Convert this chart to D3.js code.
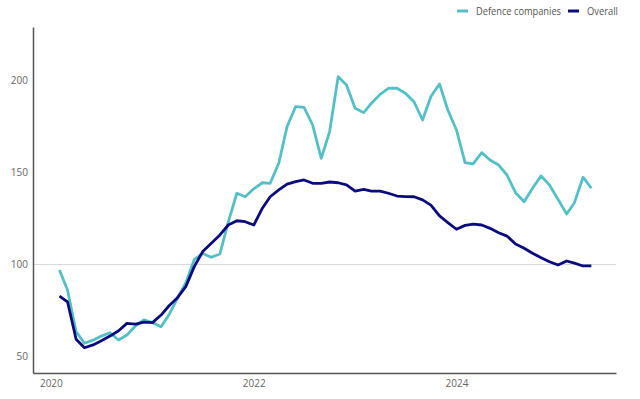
<!DOCTYPE html>
<html><head><meta charset="utf-8">
<script src="https://cdn.jsdelivr.net/npm/d3@7"></script>
<style>
html,body{margin:0;padding:0;background:#fff;}
svg{display:block;font-family:"Open Sans",sans-serif;}
</style></head>
<body><svg id="c" width="640" height="399"></svg>
<script>
const startMonth = "2020-02";
const defence = [97,86.2,63.6,57.3,59,61.2,63,59.1,61.8,66.7,70,68.5,66.3,72.6,81.7,90,102.8,106,103.9,105.7,123,138.6,136.7,141,144.3,144,154.9,174.8,185.6,185.2,175.6,157.5,171.9,201.8,197.3,184.7,182.3,187.4,192.2,195.5,195.5,192.8,188.2,178.3,191,197.8,183.7,172.9,155.2,154.5,160.6,156.6,153.9,148.5,138.9,134,141.3,148,143.1,135.3,127.4,133.5,147.3,141.3];
const overall = [82.9,79.8,59.5,54.9,56.4,58.7,61.2,64.1,68.1,67.7,68.8,68.5,72.6,77.5,82,88,99,107,111.5,116,121.4,123.7,123.2,121.4,130.5,136.7,140.4,143.6,144.9,145.8,144,144,144.7,144.3,143.1,139.8,140.7,139.8,139.8,138.6,137.1,136.8,136.7,135,132.2,126.3,122.7,119.1,121.2,121.9,121.4,119.6,117.2,115.4,111.1,108.8,106.1,103.7,101.5,99.7,101.9,100.7,99.2,99.2];
const seriesNames = ["Defence companies","Overall"];
const yTicks = [50,100,150,200];
const xTickYears = [2020,2022,2024];

(function(){
const colors = ["#55bfc6","#0b0b7e"];
const svg = d3.select("#c");
const parse = d3.timeParse("%Y-%m");
const t0 = parse(startMonth);
const dates = defence.map((d,i)=>d3.timeMonth.offset(t0,i));

const mL = 33, mR = 616, mT = 27, mB = 373;
const base = d3.scaleTime().domain([new Date(2020,0,1), new Date(2024,0,1)]).range([50.85,456.45]);
const x = d3.scaleTime().domain([base.invert(mL), base.invert(mR)]).range([mL,mR]);
const y = d3.scaleLinear().domain([41.2,228.7]).range([mB,mT]);

svg.append("line").attr("x1",mL).attr("x2",mR).attr("y1",y(100)).attr("y2",y(100))
  .attr("stroke","#d9d9d9").attr("stroke-width",1.2);

const ya = svg.append("g").attr("transform",`translate(${mL},0)`)
  .call(d3.axisLeft(y).tickValues(yTicks).tickSize(0).tickPadding(5));
ya.select(".domain").attr("stroke","#555").attr("stroke-width",1.5);
ya.selectAll("text").attr("fill","#666").attr("font-size",10).attr("font-family","Open Sans");

const xa = svg.append("g").attr("transform",`translate(0,${mB})`)
  .call(d3.axisBottom(x).tickValues(xTickYears.map(yy=>new Date(yy,0,1))).tickFormat(d3.timeFormat("%Y")).tickSize(0).tickPadding(7));
xa.select(".domain").attr("stroke","#555").attr("stroke-width",1.5);
xa.selectAll("text").attr("fill","#666").attr("font-size",10).attr("font-family","Open Sans");

const line = d3.line().x((d,i)=>x(dates[i])).y(d=>y(d));
[defence, overall].forEach((s,k)=>{
  svg.append("path").datum(s).attr("d",line).attr("fill","none")
    .attr("stroke",colors[k]).attr("stroke-width",2.8).attr("stroke-linejoin","round");
});

const lg = svg.append("g").attr("font-family","Open Sans").attr("font-size",10).attr("fill","#555");
const lx = [457,568];
const tl = [85,31];
seriesNames.forEach((n,k)=>{
  lg.append("line").attr("x1",lx[k]).attr("x2",lx[k]+11).attr("y1",11).attr("y2",11)
    .attr("stroke",colors[k]).attr("stroke-width",3);
  lg.append("text").attr("x",lx[k]+19).attr("y",14.5)
    .attr("textLength",tl[k]).attr("lengthAdjust","spacingAndGlyphs").text(n);
});
})();
</script></body></html>
